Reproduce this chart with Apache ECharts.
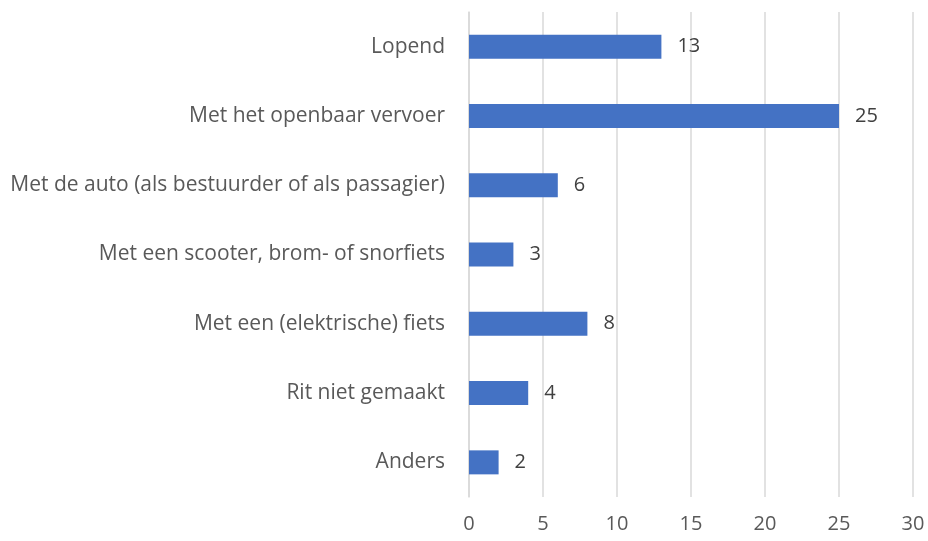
<!DOCTYPE html>
<html>
<head>
<meta charset="utf-8">
<script src="https://cdn.jsdelivr.net/npm/echarts@6/dist/echarts.min.js"></script>
<style>
  html, body { margin: 0; padding: 0; background: #fff; }
  #chart { width: 928px; height: 541px; }
</style>
</head>
<body>
<div id="chart"></div>
<script>
// categorieen van boven naar beneden
var categories = [
    'Lopend',
    'Met het openbaar vervoer',
    'Met de auto (als bestuurder of als passagier)',
    'Met een scooter, brom- of snorfiets',
    'Met een (elektrische) fiets',
    'Rit niet gemaakt',
    'Anders'
];
var values = [13, 25, 6, 3, 8, 4, 2];
var xTicks = [0, 5, 10, 15, 20, 25, 30];

var chart = echarts.init(document.getElementById('chart'));
var fontName = 'Open Sans';

chart.setOption({
    animation: false,
    grid: { left: 469, right: 15, top: 12, bottom: 44 },
    xAxis: {
        type: 'value',
        min: xTicks[0],
        max: xTicks[xTicks.length - 1],
        interval: 5,
        axisLine: { show: false },
        axisTick: { show: false },
        splitLine: { lineStyle: { color: '#d9d9d9', width: 1.5 } },
        axisLabel: { color: '#595959', fontFamily: fontName, fontSize: 20, margin: 17 }
    },
    yAxis: {
        type: 'category',
        inverse: true,
        data: categories,
        axisLine: { show: true, lineStyle: { color: '#d9d9d9', width: 1.5 } },
        axisTick: { show: false },
        axisLabel: { color: '#595959', fontFamily: fontName, fontSize: 21, margin: 24 }
    },
    series: [{
        type: 'bar',
        data: values,
        barWidth: 24,
        itemStyle: { color: '#4472c4' },
        label: {
            show: true,
            position: 'right',
            distance: 16,
            color: '#404040',
            fontFamily: fontName,
            fontSize: 20
        }
    }]
});
</script>
</body>
</html>
